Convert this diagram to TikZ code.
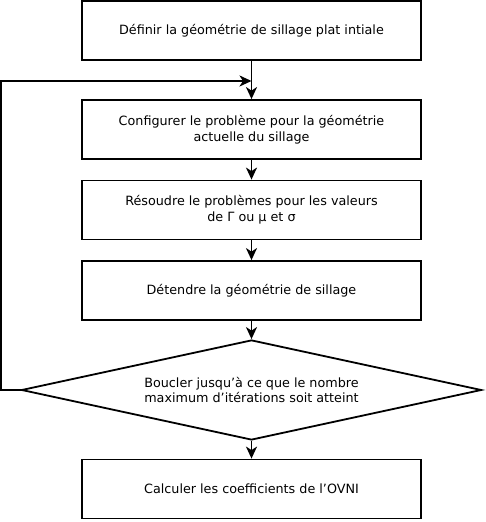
\documentclass[tikz,border=0pt]{standalone}
\usepackage{fontspec}
\setmainfont{DejaVu Sans}
\usetikzlibrary{arrows.meta,shapes.geometric}

\begin{document}
\begin{tikzpicture}[x=1bp,y=1bp,baseline=(current bounding box.center)]
        \useasboundingbox (0,0) rectangle (486,522);
        \tikzstyle{StepBox}=[draw, line width=1.8bp, minimum width=339bp, minimum height=59bp,
          align=center, font=\fontsize{12.8}{16}\selectfont, inner sep=0pt]
        \tikzstyle{TestBox}=[draw, diamond, aspect=4.6, line width=1.8bp, minimum width=460bp,
          minimum height=100bp, align=center, font=\fontsize{12.8}{16}\selectfont, inner sep=0pt]
        \tikzstyle{FlowStyle}=[line width=1.8bp, -{Stealth[length=12bp,width=11bp,inset=3.5bp]}]
        % steps
        \node[StepBox] (init) at (251.5,491.5) {Définir la géométrie de sillage plat intiale};
        \node[StepBox] (setup) at (251.5,392.5) {Configurer le problème pour la géométrie\\actuelle du sillage};
        \node[StepBox] (solve) at (251.5,312) {Résoudre le problèmes pour les valeurs\\de Γ ou µ et σ};
        \node[StepBox] (relax) at (251.5,231.5) {Détendre la géométrie de sillage};
        \node[TestBox] (loop) at (251.5,132) {Boucler jusqu’à ce que le nombre\\maximum d’itérations soit atteint};
        \node[StepBox] (coef) at (251.5,33) {Calculer les coefficients de l’OVNI};
        % loop points
        \coordinate (join) at (251.5,441);
        \coordinate (back) at (1,441);
        % arrows
        \draw[FlowStyle] (init) -- (setup);
        \draw[FlowStyle] (setup) -- (solve);
        \draw[FlowStyle] (solve) -- (relax);
        \draw[FlowStyle] (relax) -- (loop);
        \draw[FlowStyle] (loop) -- (coef);
        \draw[FlowStyle] (loop.west) -| (back) -- (join);
      \end{tikzpicture}
\end{document}
